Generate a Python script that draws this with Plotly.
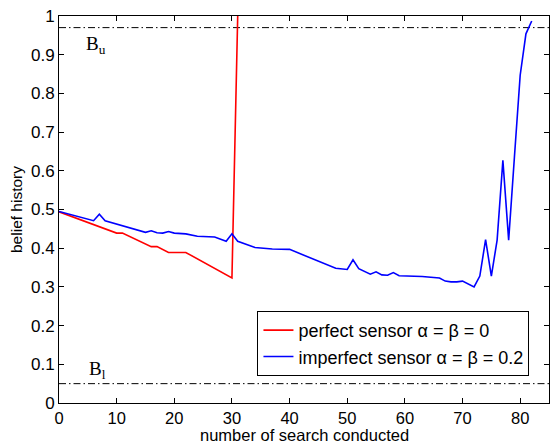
import plotly.graph_objects as go

# ---- data ----
perfect_x = [0, 10, 11, 16, 17, 19, 22, 30, 31]
perfect_y = [0.494, 0.439, 0.439, 0.404, 0.404, 0.389, 0.389, 0.323, 1.0]

imperfect_x = [0, 6, 7, 8, 15, 16, 17, 18, 19, 20, 22, 24, 27, 29, 30, 31, 34, 37, 40,
               48, 50, 51, 52, 54, 55, 56, 57, 58, 59, 63, 66, 67, 68, 69, 70, 72,
               73, 74, 75, 76, 77, 78, 79, 80, 81, 82]
imperfect_y = [0.495, 0.471, 0.488, 0.471, 0.441, 0.445, 0.440, 0.439, 0.443, 0.439, 0.437, 0.431, 0.429, 0.418, 0.437, 0.418, 0.402, 0.398, 0.397,
               0.348, 0.345, 0.370, 0.347, 0.333, 0.339, 0.331, 0.330, 0.337, 0.329, 0.327, 0.323, 0.315, 0.313, 0.313, 0.315, 0.300,
               0.328, 0.422, 0.328, 0.421, 0.627, 0.421, 0.635, 0.847, 0.954, 0.987]

B_upper = 0.97
B_lower = 0.05
x_range = [0, 85]
y_range = [0, 1]
x_ticks = [0, 10, 20, 30, 40, 50, 60, 70, 80]
y_ticks = [0, 0.1, 0.2, 0.3, 0.4, 0.5, 0.6, 0.7, 0.8, 0.9, 1]
y_tick_text = ["0", "0.1", "0.2", "0.3", "0.4", "0.5", "0.6", "0.7", "0.8", "0.9", "1"]

series_names = ["perfect sensor \u03b1 = \u03b2 = 0", "imperfect sensor \u03b1 = \u03b2 = 0.2"]
x_title = "number of search conducted"
y_title = "belief history"

fig = go.Figure()

for b in (B_upper, B_lower):
    fig.add_trace(go.Scatter(x=x_range, y=[b, b], mode="lines",
                             line=dict(color="black", width=1, dash="7px,3px,1.5px,3px"),
                             showlegend=False, hoverinfo="skip"))

fig.add_trace(go.Scatter(x=perfect_x, y=perfect_y, mode="lines", name=series_names[0],
                         line=dict(color="#ff0000", width=1.6)))
fig.add_trace(go.Scatter(x=imperfect_x, y=imperfect_y, mode="lines", name=series_names[1],
                         line=dict(color="#0000ff", width=1.6)))

serif = dict(family="Liberation Serif, Times New Roman, serif", size=19, color="black")
fig.add_annotation(x=4.4, y=0.925, xref="x", yref="y", text="B<sub>u</sub>", showarrow=False,
                   xanchor="left", yanchor="middle", font=serif)
fig.add_annotation(x=4.9, y=0.085, xref="x", yref="y", text="B<sub>l</sub>", showarrow=False,
                   xanchor="left", yanchor="middle", font=serif)

sans = "Liberation Sans, Arial, Helvetica, sans-serif"

# x-axis title as an annotation just under the tick labels
fig.add_annotation(x=0.5, y=0, xref="paper", yref="paper", yshift=-31.5, text=x_title,
                   showarrow=False, xanchor="center", yanchor="middle",
                   font=dict(family=sans, size=16.5, color="black"))

fig.update_layout(
    width=551, height=444,
    margin=dict(l=59, r=2, t=16, b=41),
    paper_bgcolor="white", plot_bgcolor="white",
    font=dict(family=sans, size=17, color="black"),
    showlegend=True,
    legend=dict(x=0.405, y=0.238, xanchor="left", yanchor="top",
                bgcolor="white", bordercolor="black", borderwidth=1,
                font=dict(family=sans, size=18, color="black"),
                tracegroupgap=0, itemwidth=30),
    xaxis=dict(range=x_range, tickvals=x_ticks, ticks="inside", ticklen=5, tickcolor="black",
               showline=True, linecolor="black", linewidth=1, mirror="ticks",
               showgrid=False, zeroline=False,
               tickfont=dict(family=sans, size=16.5)),
    yaxis=dict(range=y_range, tickvals=y_ticks, ticktext=y_tick_text, ticks="inside", ticklen=5,
               tickcolor="black", showline=True, linecolor="black", linewidth=1, mirror="ticks",
               showgrid=False, zeroline=False,
               tickfont=dict(family=sans, size=17),
               title=dict(text=y_title, standoff=4,
                          font=dict(family=sans, size=15.5))),
)

fig.write_html("out.html", config={"displayModeBar": False},
               post_script="document.body.style.margin='0';document.body.style.overflow='hidden';")
